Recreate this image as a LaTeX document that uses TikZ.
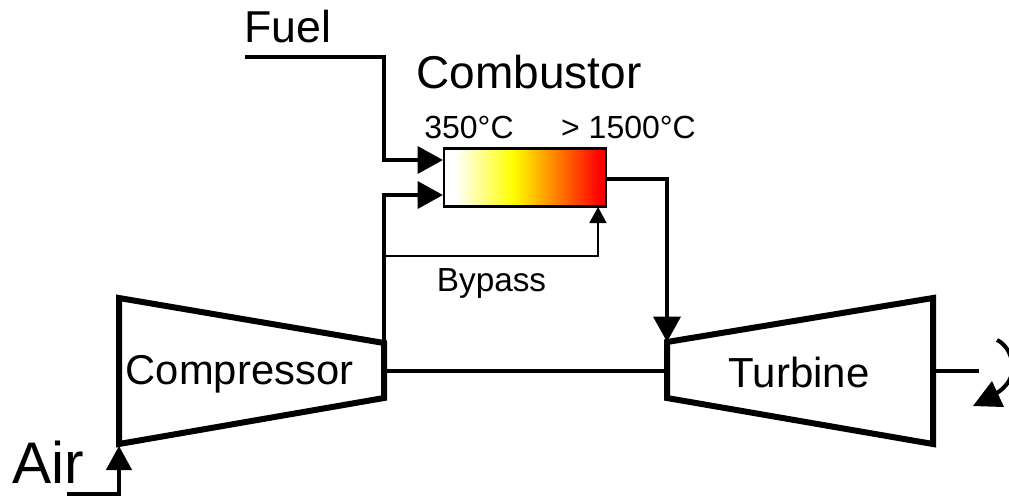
\documentclass[tikz,border=0pt]{standalone}
\usepackage{fontspec}
\setmainfont{Liberation Sans}
\usetikzlibrary{arrows.meta}
\pgfdeclarehorizontalshading{combgrad}{100bp}{
  color(0bp)=(white); color(28.4bp)=(white); color(46.3bp)=(yellow);
  color(73bp)=(red); color(100bp)=(red)}
\tikzset{
  x=0.75pt,y=-0.75pt,
  machine/.style={line width=4.5pt,line join=miter,draw=black},
  mainflow/.style={line width=3.3pt,draw=black,line join=miter},
  airflow/.style={line width=2.6pt,draw=black,line join=miter},
  bypassflow/.style={line width=2.1pt,draw=black,line join=miter},
  bighead/.style={-{Triangle[length=19pt,width=20pt]}},
  smallhead/.style={-{Triangle[length=12pt,width=12.5pt]}},
  airhead/.style={-{Triangle[length=18pt,width=19pt]}},
  lab/.style={inner sep=0pt,anchor=base},
}
\begin{document}
\begin{tikzpicture}
\useasboundingbox (0,0) rectangle (1009,496);
\clip (0,0) rectangle (1009,496);
% junction and end coordinates
\coordinate (fuelstart) at (245,57);
\coordinate (fuelbend1) at (384,57);
\coordinate (fuelbend2) at (384,160);
\coordinate (fuelin) at (443,160);
\coordinate (compout) at (384,343);
\coordinate (airbend) at (384,195);
\coordinate (airin) at (443,195);
\coordinate (bypstart) at (384,256);
\coordinate (bypbend) at (598,256);
\coordinate (bypin) at (598,207);
\coordinate (outstart) at (606,179);
\coordinate (outbend) at (667,179);
\coordinate (turbin) at (667,342);
\coordinate (shaftl) at (384,371);
\coordinate (shaftr) at (667,371);
\coordinate (powerl) at (933,371);
\coordinate (powerr) at (979,371);
\coordinate (airstart) at (67,494);
\coordinate (airturn) at (119,494);
\coordinate (airtip) at (119,446);
% machines
\draw[machine] (119,298) -- (384,343) -- (384,398) -- (119,444) -- cycle;
\draw[machine] (667,342) -- (933,298) -- (933,444) -- (667,398) -- cycle;
% combustor
\node[draw=black,line width=2.2pt,shading=combgrad,minimum width=121.5pt,minimum height=43pt,inner sep=0pt,anchor=center] (comb) at (525,177.5) {};
% flows
\draw[mainflow,bighead] (fuelstart) -- (fuelbend1) -- (fuelbend2) -- (fuelin);
\draw[mainflow,bighead] (compout) -- (airbend) -- (airin);
\draw[bypassflow,smallhead] (bypstart) -- (bypbend) -- (bypin);
\draw[mainflow,bighead] (outstart) -- (outbend) -- (turbin);
\draw[mainflow] (shaftl) -- (shaftr);
\draw[mainflow] (powerl) -- (powerr);
\draw[airflow,airhead] (airstart) -- (airturn) -- (airtip);
% rotation arrow
\draw[line width=3pt] (997,340) .. controls (1012,347) and (1018,372) .. (1006,385) .. controls (1002,390) and (998,392) .. (993,396);
\fill (973,406) -- (992,381) -- (1004,407) -- cycle;
% labels
\node[lab,font=\fontsize{33.5pt}{34pt}\selectfont] (fuel) at (287.5,42) {Fuel};
\node[lab,font=\fontsize{34.5pt}{34pt}\selectfont] (comblabel) at (529,88) {Combustor};
\node[lab,font=\fontsize{24pt}{24pt}\selectfont] (tl) at (469,138) {350°C};
\node[lab,font=\fontsize{24pt}{24pt}\selectfont] (tr) at (628.5,138) {> 1500°C};
\node[lab,font=\fontsize{25pt}{25pt}\selectfont] (bypass) at (491.5,291) {Bypass};
\node[lab,font=\fontsize{31.3pt}{31pt}\selectfont] (compressor) at (239.5,384) {Compressor};
\node[lab,font=\fontsize{31.5pt}{31pt}\selectfont] (turbine) at (799,387) {Turbine};
\node[lab,font=\fontsize{44pt}{44pt}\selectfont] (air) at (48,483) {Air};
\end{tikzpicture}
\end{document}
